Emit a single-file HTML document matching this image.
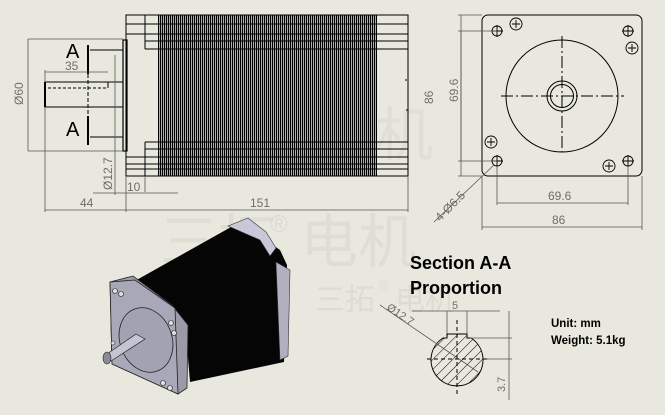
<!DOCTYPE html>
<html><head><meta charset="utf-8"><style>
html,body{margin:0;padding:0;background:#e9e8de;}
svg{display:block;}
text{font-family:"Liberation Sans","Noto Sans CJK SC",sans-serif;}
</style></head><body>
<svg width="665" height="415" viewBox="0 0 665 415" xmlns="http://www.w3.org/2000/svg">
<defs>
<pattern id="fins" x="158" y="0" width="2" height="10" patternUnits="userSpaceOnUse">
<rect x="0" y="0" width="1.25" height="10" fill="#000"/>
</pattern>
<pattern id="hatch" width="7" height="7" patternUnits="userSpaceOnUse" patternTransform="rotate(45)">
<line x1="0" y1="0" x2="0" y2="7" stroke="#000" stroke-width="1"/>
</pattern>
</defs>
<rect width="665" height="415" fill="#e9e8de"/>

<!-- watermark -->
<g opacity="0.9">
<text x="160" y="262" fill="#dedcd3" font-size="58">三拓</text>
<text x="270" y="232" fill="#dad9d0" font-size="24">®</text>
<text x="300" y="262" fill="#dedcd3" font-size="58">电机</text>
<text x="315" y="310" fill="#dcdad1" font-size="30">三拓</text>
<text x="378" y="290" fill="#dcdad1" font-size="14">®</text>
<text x="395" y="310" fill="#dcdad1" font-size="30">电机</text>
<text x="375" y="155" fill="#e0dfd6" font-size="58">机</text>
</g>

<!-- side view -->
<g stroke="#000" fill="none" stroke-width="1">
<rect x="158" y="15" width="219" height="161" fill="url(#fins)" stroke="none"/>
<rect x="126" y="15" width="282" height="161"/>
<line x1="126" y1="24" x2="408" y2="24"/>
<line x1="126" y1="34" x2="408" y2="34"/>
<line x1="145" y1="41" x2="408" y2="41"/>
<line x1="145" y1="49" x2="408" y2="49"/>
<line x1="145" y1="142" x2="408" y2="142"/>
<line x1="145" y1="149" x2="408" y2="149"/>
<line x1="126" y1="157" x2="408" y2="157"/>
<line x1="126" y1="164" x2="408" y2="164"/>
<line x1="126" y1="169" x2="408" y2="169"/>
<line x1="145" y1="15" x2="145" y2="49"/>
<line x1="145" y1="142" x2="145" y2="176"/>
<rect x="123" y="40" width="4" height="111" stroke-width="1.2"/>
<rect x="45" y="82" width="78" height="25"/>
<line x1="45" y1="82" x2="45" y2="107" stroke-width="2"/>
<line x1="48" y1="88" x2="108" y2="88" stroke-dasharray="3,2"/>
<line x1="108" y1="82" x2="108" y2="88"/>
<line x1="88" y1="45" x2="88" y2="74" stroke-width="2"/>
<line x1="88" y1="116" x2="88" y2="145" stroke-width="2"/>
<line x1="88" y1="74" x2="88" y2="116" stroke-dasharray="4,2"/>
<line x1="90" y1="50" x2="123" y2="50"/>
<line x1="90" y1="137" x2="123" y2="137"/>
<path d="M405 80 h3 v30 h-3" stroke-dasharray="2,1"/>
</g>
<text x="66" y="58" font-size="20">A</text>
<text x="66" y="136" font-size="20">A</text>

<!-- dims side -->
<g stroke="#555" stroke-width="0.8" fill="none">
<line x1="28" y1="39" x2="123" y2="39"/>
<line x1="28" y1="151" x2="123" y2="151"/>
<line x1="28" y1="39" x2="28" y2="151"/>
<line x1="45" y1="72" x2="108" y2="72"/>
<line x1="45" y1="70" x2="45" y2="82"/>
<line x1="115" y1="55" x2="115" y2="195"/>
<line x1="93" y1="193" x2="178" y2="193"/>
<line x1="126" y1="176" x2="126" y2="212"/>
<line x1="145" y1="176" x2="145" y2="192"/>
<line x1="45" y1="107" x2="45" y2="212"/>
<line x1="408" y1="176" x2="408" y2="212"/>
<line x1="45" y1="210" x2="408" y2="210"/>
</g>
<g fill="#444" font-size="12" fill-opacity="0.75">
<text x="65" y="70">35</text>
<text x="80" y="207">44</text>
<text x="250" y="207">151</text>
<text x="127" y="191">10</text>
<text transform="translate(23,105) rotate(-90)">Ø60</text>
<text transform="translate(112,190) rotate(-90)">Ø12.7</text>
</g>

<!-- front view -->
<g stroke="#000" fill="none" stroke-width="1">
<rect x="482" y="15" width="160" height="161" rx="6"/>
<circle cx="562" cy="96" r="56"/>
<circle cx="562" cy="96" r="15"/>
<circle cx="562" cy="96" r="11.5"/>
<line x1="501" y1="96" x2="624" y2="96" stroke-dasharray="12,3,2,3"/>
<line x1="562" y1="36" x2="562" y2="152" stroke-dasharray="12,3,2,3"/>
<g stroke-width="0.9">
<circle cx="497" cy="31" r="5"/><circle cx="628" cy="31" r="5"/>
<circle cx="497" cy="161" r="5"/><circle cx="628" cy="161" r="5"/>
<circle cx="516" cy="24" r="6"/><circle cx="632" cy="48" r="6"/>
<circle cx="491" cy="142" r="6"/><circle cx="609" cy="166" r="6"/>
<path d="M491 31h12M497 25v12M622 31h12M628 25v12M491 161h12M497 155v12M622 161h12M628 155v12"/>
<path d="M512 24h8M516 20v8M628 48h8M632 44v8M487 142h8M491 138v8M605 166h8M609 162v8"/>
</g>
</g>
<g stroke="#555" stroke-width="0.8" fill="none">
<line x1="458" y1="15" x2="482" y2="15"/>
<line x1="458" y1="176" x2="482" y2="176"/>
<line x1="461" y1="15" x2="461" y2="176"/>
<line x1="458" y1="31" x2="497" y2="31"/>
<line x1="458" y1="161" x2="497" y2="161"/>
<line x1="461" y1="31" x2="461" y2="161"/>
<line x1="497" y1="166" x2="497" y2="205"/>
<line x1="628" y1="166" x2="628" y2="205"/>
<line x1="497" y1="203" x2="628" y2="203"/>
<line x1="482" y1="176" x2="482" y2="230"/>
<line x1="642" y1="176" x2="642" y2="230"/>
<line x1="482" y1="227" x2="642" y2="227"/>
<line x1="434" y1="222" x2="494" y2="165"/>
</g>
<g fill="#444" font-size="12" fill-opacity="0.75">
<text transform="translate(433,104) rotate(-90)">86</text>
<text transform="translate(458,102) rotate(-90)">69.6</text>
<text x="548" y="200">69.6</text>
<text x="552" y="224">86</text>
<text transform="translate(440,222) rotate(-45)">4-Ø6.5</text>
</g>

<!-- 3D motor -->
<polygon points="133,282 240,222 280,250 287,265 284,362 190,382 185,322 172,308" fill="#050505"/>
<polygon points="228,226 248,218 266,232 276,248 270,256 260,240" fill="#c8c8d8" stroke="#333" stroke-width="0.6"/>
<polygon points="276,262 290,270 288,356 280,360" fill="#b0b0c0" stroke="#333" stroke-width="0.6"/>
<polygon points="110,282 133,276 172,305 188,325 187,388 178,394 112,364" fill="#9a9aa8" stroke="#222" stroke-width="0.8"/>
<polygon points="110,282 135,280 175,308 178,394 112,364" fill="#a8a8b8" stroke="#222" stroke-width="0.8"/>
<ellipse cx="146" cy="340" rx="26" ry="33" transform="rotate(-20 146 340)" fill="#a2a2b2" stroke="#222" stroke-width="0.8"/>
<polygon points="136,334 145,339 111,361 104,356" fill="#c4c4d2" stroke="#222" stroke-width="0.7"/>
<ellipse cx="107" cy="358" rx="4" ry="6" fill="#8a8a98" stroke="#222" stroke-width="0.6"/>
<g fill="#ddd" stroke="#222" stroke-width="0.6">
<circle cx="115" cy="291" r="2.5"/><circle cx="121" cy="294" r="2.5"/>
<circle cx="171" cy="323" r="2.5"/><circle cx="174" cy="333" r="2.5"/>
<circle cx="163" cy="383" r="2.5"/><circle cx="170" cy="388" r="2.5"/>
<circle cx="113" cy="343" r="2"/>
</g>

<!-- Section -->
<text x="410" y="269" font-size="18" font-weight="bold" fill="#000">Section A-A</text>
<text x="410" y="294" font-size="18" font-weight="bold" fill="#000">Proportion</text>
<text x="551" y="327" font-size="11.5" font-weight="bold" fill="#000">Unit: mm</text>
<text x="551" y="344" font-size="11.5" font-weight="bold" fill="#000">Weight: 5.1kg</text>
<g stroke="#000" fill="none" stroke-width="1">
<path d="M443 338 L447 338 L447 334 L467 334 L467 338 L471 338 A26 26 0 1 1 443 338 Z" fill="url(#hatch)"/>
<line x1="427" y1="359" x2="487" y2="359" stroke-dasharray="4,3"/>
<line x1="457" y1="320" x2="457" y2="395" stroke-dasharray="4,3"/>
</g>
<g stroke="#555" stroke-width="0.8" fill="none">
<line x1="447" y1="311" x2="447" y2="334"/>
<line x1="467" y1="311" x2="467" y2="334"/>
<line x1="412" y1="311" x2="500" y2="311"/>
<line x1="509" y1="311" x2="509" y2="400"/>
<line x1="470" y1="338" x2="512" y2="338"/>
<line x1="487" y1="359" x2="512" y2="359"/>
<line x1="380" y1="305" x2="478" y2="372"/>
</g>
<g fill="#444" font-size="11" fill-opacity="0.75">
<text x="452" y="309">5</text>
<text transform="translate(386,309) rotate(34)">Ø12.7</text>
<text transform="translate(505,392) rotate(-90)">3.7</text>
</g>
</svg>
</body></html>
